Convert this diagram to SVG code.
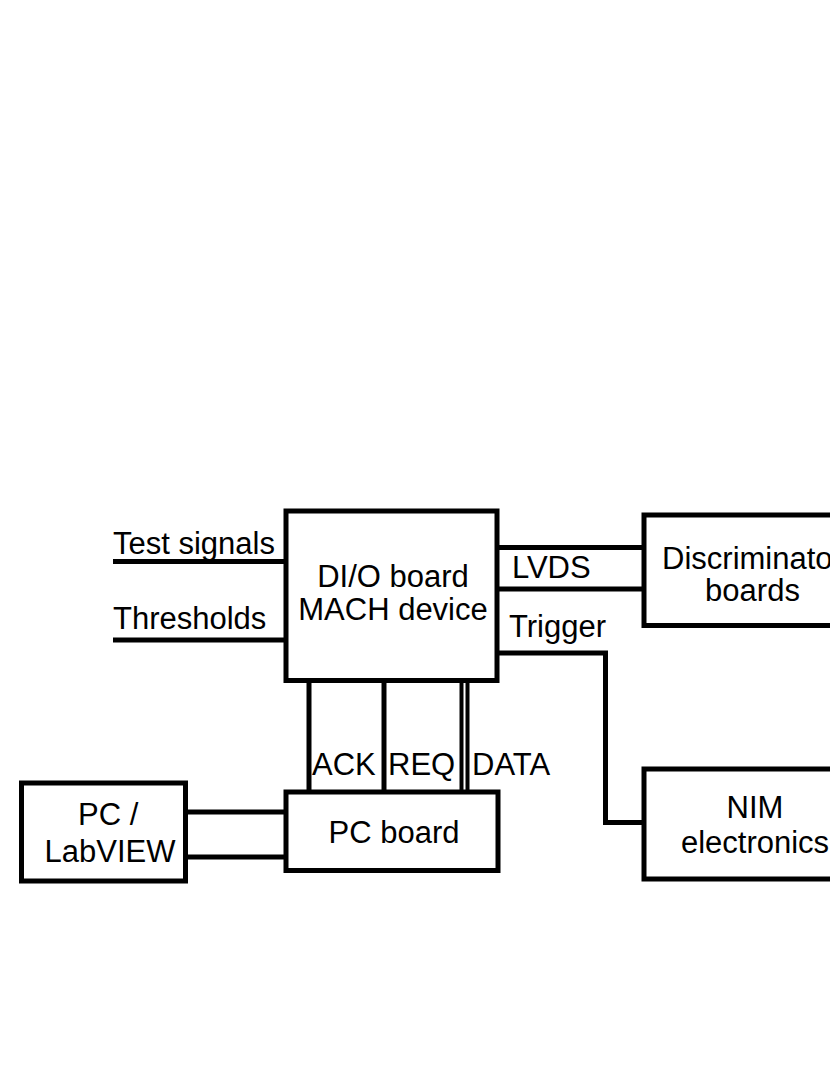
<svg xmlns="http://www.w3.org/2000/svg" width="830" height="1075" viewBox="0 0 830 1075">
<style>
.box{fill:#fff;stroke:#000;stroke-width:5}
.ln{fill:none;stroke:#000;stroke-width:5}
.thin{fill:none;stroke:#000;stroke-width:4}
text{font-family:"Liberation Sans",Arial,sans-serif;font-size:31px;fill:#000}
.c{text-anchor:middle}
</style>
<rect width="830" height="1075" fill="#fff"/>
<g id="connectors">
<path class="ln" d="M113 561.5H286"/>
<path class="ln" d="M113 640H286"/>
<path class="ln" d="M497 547.5H644"/>
<path class="ln" d="M497 589H644"/>
<path class="ln" d="M497 653H605.5V822.5H644"/>
<path class="ln" d="M309 680V792"/>
<path class="ln" d="M384 680V792"/>
<path class="thin" d="M461.5 680V792"/>
<path class="thin" d="M467.5 680V792"/>
<path class="ln" d="M185.5 812H286"/>
<path class="ln" d="M185.5 857H286"/>
<text x="113" y="553.5">Test signals</text>
<text x="113" y="628.5">Thresholds</text>
<text x="512" y="578">LVDS</text>
<text x="509" y="637">Trigger</text>
<text x="312" y="775">ACK</text>
<text x="388" y="775">REQ</text>
<text x="472" y="775">DATA</text>
</g>
<g id="dio">
<rect class="box" x="286" y="511" width="211" height="169.5"/>
<text class="c" x="393" y="587">DI/O board</text>
<text class="c" x="393" y="620">MACH device</text>
</g>
<g id="discriminator">
<rect class="box" x="644" y="515" width="217" height="110.5"/>
<text class="c" x="752.5" y="569">Discriminator</text>
<text class="c" x="752.5" y="601">boards</text>
</g>
<g id="nim">
<rect class="box" x="644" y="769" width="222" height="110"/>
<text class="c" x="755" y="818">NIM</text>
<text class="c" x="755" y="853">electronics</text>
</g>
<g id="pcboard">
<rect class="box" x="286" y="792" width="212" height="78.5"/>
<text class="c" x="394" y="843">PC board</text>
</g>
<g id="pc">
<rect class="box" x="21.5" y="783" width="164" height="98"/>
<text x="78" y="825">PC /</text>
<text class="c" x="110" y="862">LabVIEW</text>
</g>
</svg>
